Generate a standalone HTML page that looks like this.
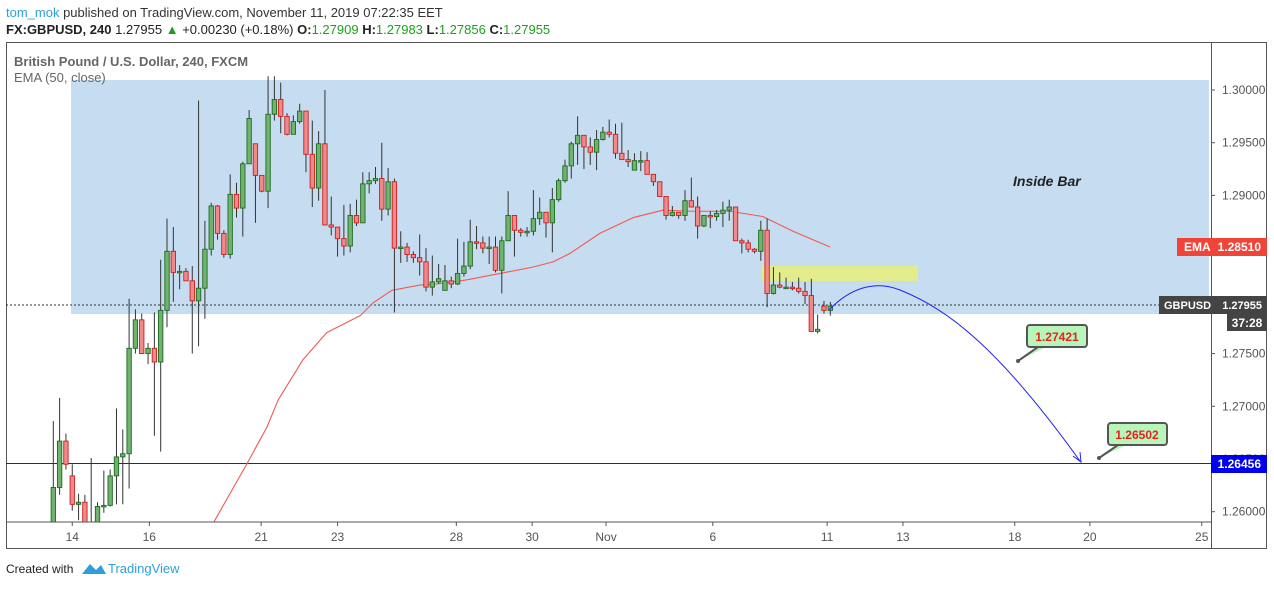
<!DOCTYPE html>
<html><head><meta charset="utf-8">
<style>
body{margin:0;background:#fff;width:1274px;height:586px;overflow:hidden;font-family:"Liberation Sans",sans-serif}
svg text{font-family:"Liberation Sans",sans-serif}
</style></head>
<body>
<svg id="chart" width="1274" height="586" xmlns="http://www.w3.org/2000/svg">
<text x="6" y="17" font-size="13" fill="#333"><tspan fill="#2f9fd8">tom_mok</tspan> published on TradingView.com, November 11, 2019 07:22:35 EET</text>
<text x="6" y="34" font-size="13" fill="#222"><tspan font-weight="bold">FX:GBPUSD, 240</tspan> 1.27955 <tspan fill="#1aa31a">▲</tspan> +0.00230 (+0.18%) <tspan font-weight="bold">O:</tspan><tspan fill="#1aa31a">1.27909</tspan> <tspan font-weight="bold">H:</tspan><tspan fill="#1aa31a">1.27983</tspan> <tspan font-weight="bold">L:</tspan><tspan fill="#1aa31a">1.27856</tspan> <tspan font-weight="bold">C:</tspan><tspan fill="#1aa31a">1.27955</tspan></text>
<rect x="6.5" y="42.5" width="1260" height="506" fill="none" stroke="#555"/>
<rect x="71" y="80" width="1138" height="234" fill="#c6ddf1"/>
<rect x="762" y="266" width="156" height="15" fill="#e2ec8c"/>
<text x="14" y="66" font-size="13" font-weight="bold" fill="#666">British Pound / U.S. Dollar, 240, FXCM</text>
<text x="14" y="82" font-size="13" fill="#666">EMA (50, close)</text>
<text x="1013" y="186" font-size="14" font-weight="bold" font-style="italic" fill="#222">Inside Bar</text>
<line x1="6" y1="305" x2="1211" y2="305" stroke="#333" stroke-dasharray="2,2"/>
<line x1="6" y1="463.5" x2="1211" y2="463.5" stroke="#1a1acc"/>
<g id="ema"></g>
<g id="candles"></g>
<path d="M829,310 C850,288 875,280 900,290 C950,310 1000,350 1080,461" fill="none" stroke="#2222ee" stroke-width="1"/>
<path d="M1073,456 L1081,462 L1080,452" fill="none" stroke="#2222ee"/>
<g>
<path d="M1018,361 L1038,347 L1046,347" stroke="#555" stroke-width="2" fill="#b8f5b8"/>
<rect x="1027" y="325" width="60" height="22" rx="3" fill="#b8f5b8" stroke="#555" stroke-width="2"/>
<circle cx="1018" cy="361" r="2" fill="#555"/>
<text x="1057" y="341" font-size="12" font-weight="bold" fill="#e52222" text-anchor="middle">1.27421</text></g>
<g>
<path d="M1099,458 L1118,445 L1126,445" stroke="#555" stroke-width="2" fill="#b8f5b8"/>
<rect x="1108" y="423" width="59" height="22" rx="3" fill="#b8f5b8" stroke="#555" stroke-width="2"/>
<circle cx="1099" cy="458" r="2" fill="#555"/>
<text x="1137" y="439" font-size="12" font-weight="bold" fill="#e52222" text-anchor="middle">1.26502</text></g>
<rect x="7" y="522" width="1204" height="26" fill="#fff"/>
<line x1="6" y1="522" x2="1211" y2="522" stroke="#555"/>
<line x1="1211.5" y1="42" x2="1211.5" y2="549" stroke="#555"/>
<g id="yaxis"></g><g id="xaxis"></g>
<g><rect x="1177" y="238" width="90" height="18" fill="#f04438"/><text x="1184" y="251" font-size="12" font-weight="bold" fill="#fff">EMA</text><text x="1261" y="251" font-size="12" font-weight="bold" fill="#fff" text-anchor="end">1.28510</text></g>
<g><rect x="1159" y="296" width="108" height="18" fill="#444"/><text x="1164" y="309" font-size="11" font-weight="bold" fill="#fff">GBPUSD</text><text x="1262" y="309" font-size="11" font-weight="bold" fill="#fff" text-anchor="end">1.27955</text></g>
<g><rect x="1227" y="314" width="40" height="17" fill="#444"/><text x="1247" y="327" font-size="12" font-weight="bold" fill="#fff" text-anchor="middle">37:28</text></g>
<g><rect x="1211" y="455" width="56" height="18" fill="#0000ee"/><text x="1261" y="468" font-size="12" font-weight="bold" fill="#fff" text-anchor="end">1.26456</text></g>
<text x="6" y="573" font-size="12" fill="#222">Created with</text>
<path d="M82,574 L90,564 L96,570 L101,565 L106,574 Z" fill="#2f9fd8"/>
<text x="108" y="573" font-size="13" fill="#2f9fd8">TradingView</text>
</svg>
<script>
const categories=[];
const opens=[1.2589,1.2623,1.2667,1.2634,1.2607,1.2609,1.2588,1.2583,1.2605,1.2606,1.2634,1.2652,1.2655,1.2755,1.2782,1.2750,1.2755,1.2742,1.2791,1.2847,1.2827,1.2828,1.2819,1.2800,1.2812,1.2849,1.2890,1.2864,1.2844,1.2901,1.2888,1.2930,1.2949,1.2919,1.2904,1.2977,1.2991,1.2975,1.2958,1.2970,1.2980,1.2939,1.2907,1.2949,1.2872,1.2870,1.2859,1.2852,1.2881,1.2874,1.2911,1.2914,1.2916,1.2887,1.2913,1.2850,1.2851,1.2844,1.2841,1.2837,1.2813,1.2818,1.2810,1.2819,1.2816,1.2826,1.2833,1.2856,1.2855,1.2850,1.2851,1.2829,1.2857,1.2881,1.2867,1.2865,1.2866,1.2878,1.2884,1.2874,1.2896,1.2914,1.2928,1.2949,1.2957,1.2946,1.2941,1.2953,1.2960,1.2958,1.2940,1.2934,1.2924,1.2933,1.2933,1.2920,1.2913,1.2899,1.2881,1.2884,1.2881,1.2895,1.2889,1.2871,1.2881,1.2880,1.2883,1.2886,1.2889,1.2857,1.2855,1.2849,1.2847,1.2867,1.2807,1.2815,1.2813,1.2813,1.2812,1.2809,1.2805,1.2771,1.2795,1.2791];
const highs=[1.2686,1.2708,1.2674,1.2645,1.2617,1.2616,1.2651,1.2609,1.2639,1.2640,1.2698,1.2678,1.2802,1.2792,1.2788,1.2760,1.2789,1.2839,1.2878,1.2870,1.2834,1.2831,1.2833,1.2990,1.2876,1.2893,1.2891,1.2867,1.2920,1.2912,1.2932,1.2981,1.2949,1.2919,1.3013,1.3013,1.3007,1.2978,1.2976,1.2987,1.2980,1.2971,1.2961,1.3000,1.2899,1.2870,1.2891,1.2892,1.2896,1.2922,1.2922,1.2927,1.2950,1.2926,1.2916,1.2866,1.2855,1.2847,1.2863,1.2850,1.2843,1.2835,1.2834,1.2823,1.2859,1.2856,1.2877,1.2871,1.2861,1.2861,1.2861,1.2861,1.2904,1.2881,1.2869,1.2870,1.2905,1.2898,1.2884,1.2907,1.2916,1.2934,1.2951,1.2975,1.2957,1.2955,1.2962,1.2965,1.2972,1.2968,1.2969,1.2943,1.2940,1.2942,1.2941,1.2920,1.2913,1.2899,1.2890,1.2884,1.2905,1.2917,1.2899,1.2881,1.2885,1.2886,1.2894,1.2896,1.2889,1.2859,1.2858,1.2850,1.2876,1.2878,1.2832,1.2827,1.2822,1.2818,1.2822,1.2818,1.2821,1.2787,1.2800,1.2799];
const lows=[1.2580,1.2616,1.2640,1.2601,1.2592,1.2578,1.2575,1.2578,1.2599,1.2605,1.2607,1.2607,1.2622,1.2750,1.2750,1.2740,1.2672,1.2657,1.2775,1.2799,1.2811,1.2819,1.2750,1.2757,1.2783,1.2843,1.2858,1.2841,1.2840,1.2879,1.2861,1.2930,1.2874,1.2903,1.2888,1.2971,1.2959,1.2957,1.2958,1.2968,1.2922,1.2889,1.2895,1.2872,1.2862,1.2842,1.2843,1.2846,1.2871,1.2874,1.2902,1.2911,1.2876,1.2881,1.2789,1.2836,1.2837,1.2836,1.2824,1.2809,1.2805,1.2816,1.2810,1.2812,1.2815,1.2823,1.2830,1.2849,1.2845,1.2835,1.2827,1.2807,1.2857,1.2842,1.2861,1.2861,1.2862,1.2872,1.2860,1.2846,1.2894,1.2912,1.2916,1.2929,1.2925,1.2929,1.2924,1.2952,1.2955,1.2935,1.2934,1.2927,1.2924,1.2923,1.2920,1.2909,1.2899,1.2877,1.2880,1.2878,1.2876,1.2889,1.2859,1.2870,1.2869,1.2876,1.2870,1.2876,1.2857,1.2845,1.2846,1.2845,1.2838,1.2794,1.2806,1.2812,1.2812,1.2810,1.2807,1.2797,1.2771,1.2769,1.2788,1.2786];
const closes=[1.2623,1.2667,1.2645,1.2607,1.2609,1.2585,1.2582,1.2605,1.2606,1.2634,1.2652,1.2655,1.2755,1.2782,1.2750,1.2755,1.2742,1.2791,1.2847,1.2827,1.2828,1.2819,1.2800,1.2812,1.2849,1.2890,1.2864,1.2844,1.2901,1.2888,1.2930,1.2973,1.2919,1.2904,1.2977,1.2991,1.2975,1.2958,1.2970,1.2980,1.2939,1.2907,1.2949,1.2872,1.2870,1.2859,1.2852,1.2881,1.2874,1.2911,1.2914,1.2916,1.2887,1.2913,1.2850,1.2851,1.2844,1.2841,1.2837,1.2813,1.2818,1.2821,1.2819,1.2816,1.2826,1.2833,1.2856,1.2855,1.2850,1.2851,1.2829,1.2857,1.2881,1.2867,1.2865,1.2866,1.2878,1.2884,1.2874,1.2896,1.2914,1.2928,1.2949,1.2957,1.2946,1.2941,1.2953,1.2960,1.2958,1.2940,1.2934,1.2932,1.2933,1.2933,1.2920,1.2913,1.2899,1.2881,1.2884,1.2881,1.2895,1.2889,1.2871,1.2881,1.2880,1.2883,1.2886,1.2889,1.2857,1.2855,1.2849,1.2847,1.2867,1.2807,1.2815,1.2813,1.2813,1.2812,1.2809,1.2805,1.2771,1.2773,1.2791,1.2795];
const emaIdx=[26.3,31.7,34.8,36.6,40.5,44.3,49.6,51.6,54.6,59.0,61.7,66.5,71.7,76.9,80.1,82.8,87.5,92.8,97.5,102.3,108.1,113.3,118.1,124];
const emaVal=[1.2589,1.2646,1.2680,1.2706,1.2744,1.2770,1.2786,1.2798,1.2810,1.2815,1.2816,1.2820,1.2826,1.2832,1.2837,1.2845,1.2864,1.2879,1.2886,1.2885,1.2885,1.2880,1.2866,1.2851];
const yTicks=[1.30,1.295,1.29,1.285,1.28,1.275,1.27,1.265,1.26];
const yTickLabels=["1.30000","1.29500","1.29000","1.28500","1.28000","1.27500","1.27000","1.26500","1.26000"];
const xTickIdx=[4.0,16.2,33.9,46.0,64.8,76.8,88.5,105.4,123.5,135.5,153.2,165.1,182.8];
const xTickLabels=["14","16","21","23","28","30","Nov","6","11","13","18","20","25"];

const NS="http://www.w3.org/2000/svg";
const yS=p=>90+(1.3-p)*10543;
const xS=i=>53.3+(i-1)*6.317;
function mk(tag,attrs,parent){const e=document.createElementNS(NS,tag);for(const k in attrs)e.setAttribute(k,attrs[k]);parent.appendChild(e);return e;}
const cg=document.getElementById('candles');
const clip=mk('clipPath',{id:'pane'},document.getElementById('chart'));
mk('rect',{x:7,y:43,width:1204,height:479},clip);
cg.setAttribute('clip-path','url(#pane)');
for(let i=0;i<opens.length;i++){
  categories.push(i+1);
  const x=xS(i+1),o=opens[i],c=closes[i],up=c>=o;
  const g=mk('g',{},cg);
  
  
  mk('line',{x1:x,x2:x,y1:yS(highs[i]),y2:yS(lows[i]),stroke:'#333','stroke-width':1},g);
  const top=yS(Math.max(o,c)),h=Math.max(1.5,yS(Math.min(o,c))-top);
  mk('rect',{x:x-2.2,y:top,width:4.4,height:h,fill:up?'#6fb36f':'#ef8a8a',stroke:up?'#1f6a1f':'#cc1e1e','stroke-width':0.9},g);
}
const eg=document.getElementById('ema');
eg.setAttribute('clip-path','url(#pane)');
const ep=mk('polyline',{points:emaIdx.map((v,k)=>xS(v)+','+yS(emaVal[k])).join(' '),fill:'none',stroke:'#f05a50','stroke-width':1.1,'stroke-linejoin':'round'},eg);


const ya=document.getElementById('yaxis');
yTicks.forEach((p,k)=>{const y=yS(p);
  mk('line',{x1:1211,x2:1215,y1:y,y2:y,stroke:'#555'},ya);
  const t=mk('text',{x:1222,y:y+4,'font-size':12,fill:'#555'},ya);
  
  
  t.textContent=yTickLabels[k];});
const xa=document.getElementById('xaxis');
xTickIdx.forEach((v,k)=>{const x=xS(v);
  mk('line',{x1:x,x2:x,y1:522,y2:526,stroke:'#555'},xa);
  const t=mk('text',{x:x,y:541,'font-size':12,fill:'#555','text-anchor':'middle'},xa);
  
  
  t.textContent=xTickLabels[k];});
</script>
</body></html>
